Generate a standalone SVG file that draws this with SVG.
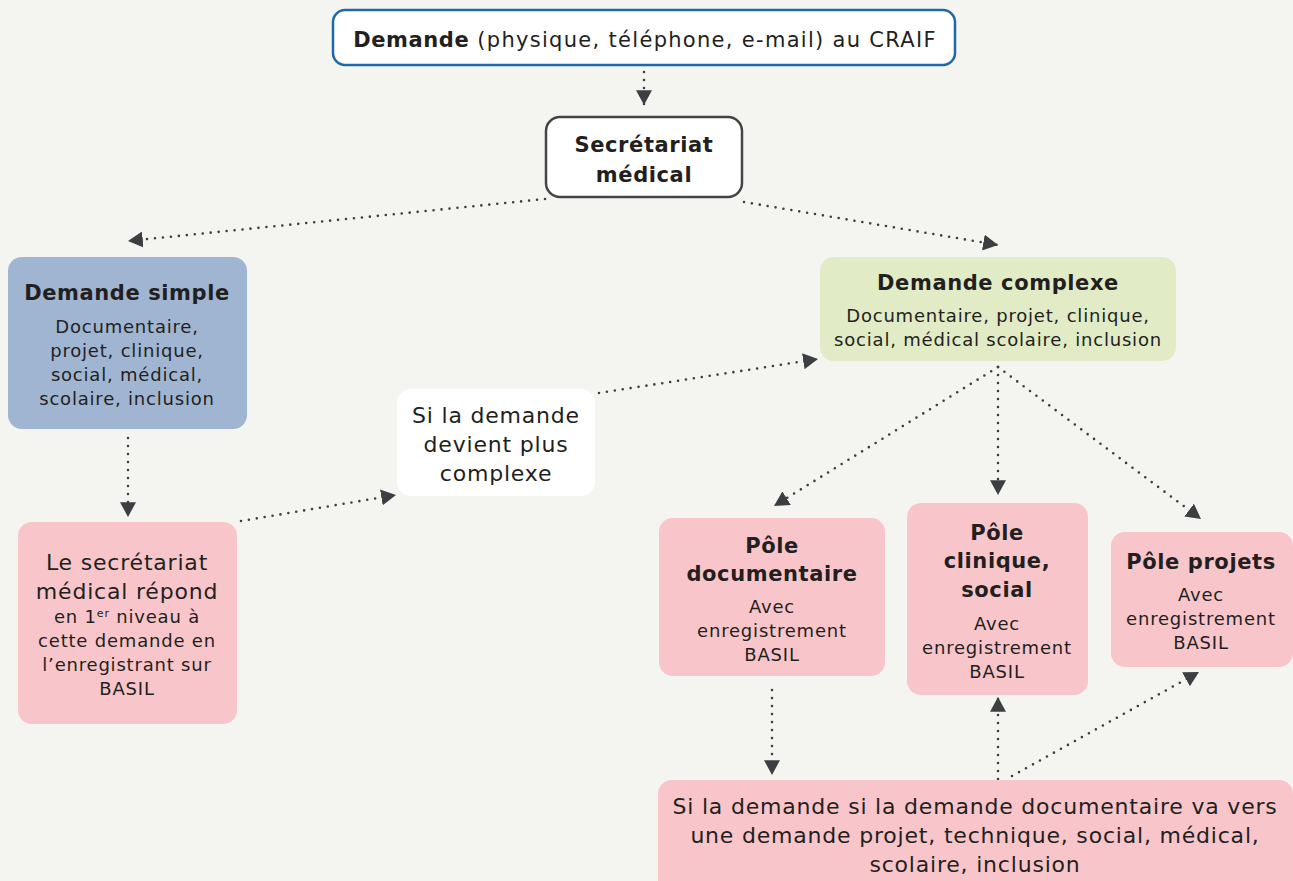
<svg xmlns="http://www.w3.org/2000/svg" width="1293" height="881" viewBox="0 0 1293 881">
<defs>
<style>
text{font-family:"DejaVu Sans","Liberation Sans",sans-serif;fill:#231f20;text-anchor:middle}
.b{font-weight:bold;font-size:21px;letter-spacing:0.6px}
.top{font-size:21px;letter-spacing:1.3px}
.t17{font-size:18px;letter-spacing:0.8px}
.t21{font-size:22px;letter-spacing:0.8px}
.con line{stroke:#3c3f41;stroke-width:2.6;stroke-dasharray:0 8;stroke-linecap:round;fill:none}
</style>
<marker id="ah" markerUnits="userSpaceOnUse" markerWidth="16" markerHeight="16" viewBox="0 0 14 14" refX="13" refY="7" orient="auto">
<path d="M0,0 L13,7 L0,14 z" fill="#3c3f41"/>
</marker>
</defs>
<rect width="1293" height="881" fill="#f4f4f0"/>

<g class="con">
<line x1="644" y1="72" x2="644" y2="105" marker-end="url(#ah)"/>
<line x1="545" y1="199" x2="128" y2="241" marker-end="url(#ah)"/>
<line x1="744" y1="202" x2="998" y2="245" marker-end="url(#ah)"/>
<line x1="128" y1="438" x2="128" y2="517" marker-end="url(#ah)"/>
<line x1="241" y1="521" x2="396" y2="495" marker-end="url(#ah)"/>
<line x1="599" y1="393" x2="818" y2="359" marker-end="url(#ah)"/>
<line x1="998" y1="367" x2="774" y2="506" marker-end="url(#ah)"/>
<line x1="998" y1="367" x2="998" y2="495" marker-end="url(#ah)"/>
<line x1="998" y1="367" x2="1201" y2="519" marker-end="url(#ah)"/>
<line x1="772" y1="690" x2="772" y2="775" marker-end="url(#ah)"/>
<line x1="998" y1="779" x2="998" y2="697" marker-end="url(#ah)"/>
<line x1="1012" y1="776" x2="1199" y2="672" marker-end="url(#ah)"/>
</g>

<g id="demande">
<rect x="333" y="10" width="622" height="55" rx="12" fill="#fff" stroke="#1f69a6" stroke-width="2.5"/>
<text x="645" y="47" class="top"><tspan font-weight="bold" letter-spacing="0.6px">Demande</tspan> (physique, téléphone, e-mail) au CRAIF</text>
</g>

<g id="secretariat">
<rect x="546" y="117" width="196" height="80" rx="14" fill="#fff" stroke="#444" stroke-width="2.5"/>
<text x="644" y="152" class="b">Secrétariat</text>
<text x="644" y="182" class="b">médical</text>
</g>

<g id="simple">
<rect x="8" y="257" width="239" height="172" rx="14" fill="#9fb5d1"/>
<text x="127" y="300" class="b">Demande simple</text>
<text x="127" y="333" class="t17">Documentaire,</text>
<text x="127" y="357" class="t17">projet, clinique,</text>
<text x="127" y="381" class="t17">social, médical,</text>
<text x="127" y="405" class="t17">scolaire, inclusion</text>
</g>

<g id="complexe">
<rect x="820" y="257" width="356" height="104" rx="14" fill="#e1ebc5"/>
<text x="998" y="290" class="b">Demande complexe</text>
<text x="998" y="322" class="t17">Documentaire, projet, clinique,</text>
<text x="998" y="346" class="t17">social, médical scolaire, inclusion</text>
</g>

<g id="plus-complexe">
<rect x="397" y="389" width="198" height="107" rx="14" fill="#fff"/>
<text x="496" y="423" class="t21">Si la demande</text>
<text x="496" y="452" class="t21">devient plus</text>
<text x="496" y="481" class="t21">complexe</text>
</g>

<g id="reponse">
<rect x="18" y="522" width="219" height="202" rx="14" fill="#f8c6ca"/>
<text x="127" y="570" class="t21">Le secrétariat</text>
<text x="127" y="599" class="t21">médical répond</text>
<text x="127" y="623" class="t17">en 1<tspan font-size="11" dy="-6">er</tspan><tspan dy="6"> niveau à</tspan></text>
<text x="127" y="647" class="t17">cette demande en</text>
<text x="127" y="671" class="t17">l’enregistrant sur</text>
<text x="127" y="695" class="t17">BASIL</text>
</g>

<g id="pole-doc">
<rect x="659" y="518" width="226" height="158" rx="14" fill="#f8c6ca"/>
<text x="772" y="553" class="b">Pôle</text>
<text x="772" y="581" class="b">documentaire</text>
<text x="772" y="613" class="t17">Avec</text>
<text x="772" y="637" class="t17">enregistrement</text>
<text x="772" y="661" class="t17">BASIL</text>
</g>

<g id="pole-clinique">
<rect x="907" y="503" width="181" height="192" rx="14" fill="#f8c6ca"/>
<text x="997" y="540" class="b">Pôle</text>
<text x="997" y="568" class="b">clinique,</text>
<text x="997" y="597" class="b">social</text>
<text x="997" y="630" class="t17">Avec</text>
<text x="997" y="654" class="t17">enregistrement</text>
<text x="997" y="678" class="t17">BASIL</text>
</g>

<g id="pole-projets">
<rect x="1111" y="532" width="182" height="135" rx="14" fill="#f8c6ca"/>
<text x="1201" y="569" class="b">Pôle projets</text>
<text x="1201" y="601" class="t17">Avec</text>
<text x="1201" y="625" class="t17">enregistrement</text>
<text x="1201" y="649" class="t17">BASIL</text>
</g>

<g id="documentaire-vers">
<rect x="658" y="780" width="635" height="120" rx="14" fill="#f8c6ca"/>
<text x="975" y="814" class="t21">Si la demande si la demande documentaire va vers</text>
<text x="975" y="843" class="t21">une demande projet, technique, social, médical,</text>
<text x="975" y="872" class="t21">scolaire, inclusion</text>
</g>
</svg>
